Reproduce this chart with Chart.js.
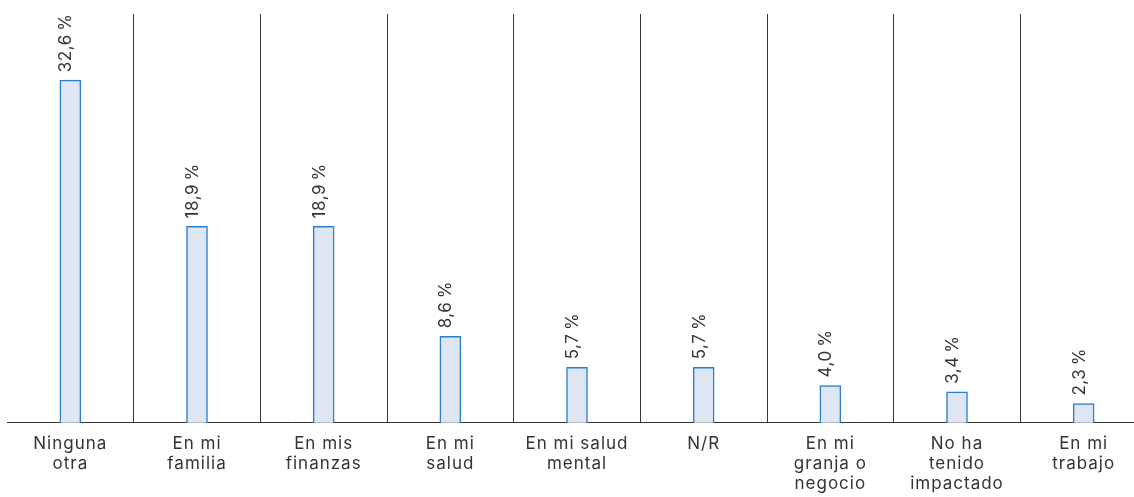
<!DOCTYPE html>
<html>
<head>
<meta charset="utf-8">
<script src="https://cdn.jsdelivr.net/npm/chart.js@4"></script>
<style>
  html, body { margin: 0; padding: 0; background: #fff; overflow: hidden; }
  #wrap { width: 1147px; height: 509px; }
</style>
</head>
<body>
<div id="wrap"><canvas id="barras"></canvas></div>
<script>
let categorias = [
  ["Ninguna", "otra"],
  ["En mi", "familia"],
  ["En mis", "finanzas"],
  ["En mi", "salud"],
  ["En mi salud", "mental"],
  "N/R",
  ["En mi", "granja o", "negocio"],
  ["No ha", "tenido", "impactado"],
  ["En mi", "trabajo"],
];

let valores = [32.6, 18.9, 18.9, 8.6, 5.7, 5.7, 4.0, 3.4, 2.3];

let textColor = "#333333";

// etiquetas rotadas encima de cada barra
let etiquetas = {
  id: "etiquetas",
  beforeDraw(chart) {
    chart.ctx.letterSpacing = "1px";
  },
  afterDatasetsDraw(chart) {
    let ctx = chart.ctx;
    let meta = chart.getDatasetMeta(0);
    ctx.save();
    ctx.font = "17px Inter";
    ctx.letterSpacing = "0.5px";
    ctx.fillStyle = textColor;
    ctx.textAlign = "left";
    ctx.textBaseline = "alphabetic";
    meta.data.forEach((bar, i) => {
      ctx.save();
      ctx.translate(bar.x + 1, bar.y - 8);
      ctx.rotate(-Math.PI / 2);
      ctx.fillText(valores[i].toFixed(1).replace(".", ",") + "\u2009%", 0, 0);
      ctx.restore();
    });
    ctx.restore();
  },
};

new Chart(document.getElementById("barras"), {
  type: "bar",
  data: {
    labels: categorias,
    datasets: [
      {
        data: valores,
        backgroundColor: "#dfe6f3",
        borderColor: "#2a80cf",
        borderWidth: 1.5,
        barThickness: 21,
      },
    ],
  },
  options: {
    responsive: true,
    maintainAspectRatio: false,
    animation: false,
    layout: {
      padding: { left: 7, right: 0, top: 14, bottom: 4 },
    },
    plugins: {
      legend: { display: false },
      tooltip: { enabled: false },
    },
    scales: {
      x: {
        offset: true,
        grid: {
          offset: true,
          drawTicks: false,
          color: (c) => (c.index === 0 ? "rgba(0,0,0,0)" : "#333333"),
          lineWidth: 1,
        },
        border: { display: true, color: "#333333", width: 1 },
        ticks: {
          color: textColor,
          font: { family: "Inter", size: 17, lineHeight: 1.18 },
          padding: 11,
          maxRotation: 0,
          autoSkip: false,
        },
      },
      y: {
        display: false,
        min: 0.5,
        max: 38.8,
      },
    },
  },
  plugins: [etiquetas],
});
</script>
</body>
</html>
